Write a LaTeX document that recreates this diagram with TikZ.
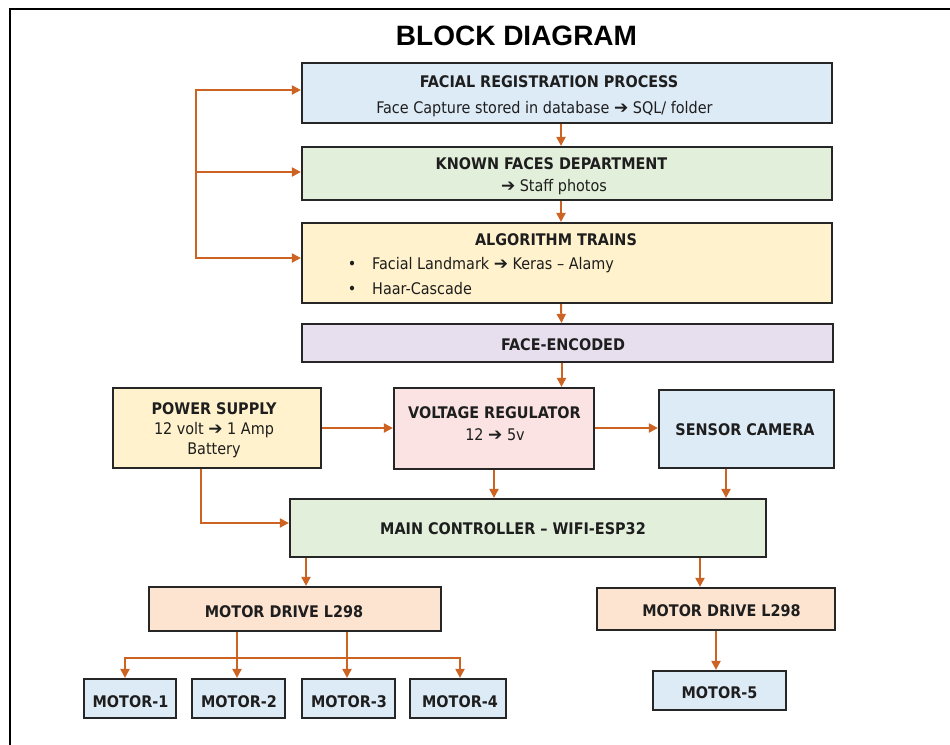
\documentclass[tikz,border=0pt]{standalone}
\usepackage{fontspec}
\setmainfont{DejaVu Sans Condensed}
\newfontfamily\titlefont{Liberation Sans}
\newfontfamily\arrfont{DejaVu Sans}
\newcommand{\harr}{{\arrfont\fontsize{17}{19}\selectfont ➔}}
\usetikzlibrary{arrows.meta}
\definecolor{arrc}{HTML}{CC6322}
\definecolor{bordc}{HTML}{262626}
\definecolor{txtc}{HTML}{1E1E1E}
\definecolor{cblue}{HTML}{DDEBF7}
\definecolor{cgreen}{HTML}{E2EFDA}
\definecolor{cyellow}{HTML}{FFF2CC}
\definecolor{clav}{HTML}{E7DFEE}
\definecolor{cpink}{HTML}{FBE3E3}
\definecolor{cpeach}{HTML}{FCE4D0}
\tikzset{
  box/.style={draw=bordc, line width=2.2pt, rectangle, inner sep=0pt},
  hd/.style={anchor=base, font=\fontsize{16}{19}\selectfont\bfseries, text=txtc, inner sep=0pt},
  tx/.style={anchor=base, font=\fontsize{16}{19}\selectfont, text=txtc, inner sep=0pt},
  txl/.style={anchor=base west, font=\fontsize{16}{19}\selectfont, text=txtc, inner sep=0pt},
  arr/.style={draw=arrc, line width=2pt, -{Triangle[length=9pt,width=9pt]}},
  frame/.style={draw=black, line width=2pt}
}
\begin{document}
\begin{tikzpicture}[x=1pt,y=-1pt]
\useasboundingbox (0,0) rectangle (950,744);
\fill[white] (0,0) rectangle (950,744);
\coordinate (frbl) at (10,745);
\coordinate (frtl) at (10,9);
\coordinate (frtr) at (951,9);
\draw[frame] (frbl) -- (frtl) -- (frtr);

\node[anchor=base, font=\titlefont\bfseries\fontsize{28}{30}\selectfont, text=black, inner sep=0pt] (title) at (516.5,45) {BLOCK DIAGRAM};

% boxes
\node[box, fill=cblue,   minimum width=530, minimum height=60] (reg)   at (567,93) {};
\node[box, fill=cgreen,  minimum width=530, minimum height=53] (known) at (567,173.5) {};
\node[box, fill=cyellow, minimum width=530, minimum height=80] (algo)  at (567,263) {};
\node[box, fill=clav,    minimum width=531, minimum height=38] (enc)   at (567.5,343) {};
\node[box, fill=cyellow, minimum width=208, minimum height=80] (ps)    at (217,428) {};
\node[box, fill=cpink,   minimum width=200, minimum height=81] (vr)    at (494,428.5) {};
\node[box, fill=cblue,   minimum width=175, minimum height=78] (sc)    at (746.5,429) {};
\node[box, fill=cgreen,  minimum width=476, minimum height=58] (mc)    at (528,528) {};
\node[box, fill=cpeach,  minimum width=292, minimum height=44] (mdl)   at (295,609) {};
\node[box, fill=cpeach,  minimum width=238, minimum height=42] (mdr)   at (716,609) {};
\node[box, fill=cblue,   minimum width=92,  minimum height=39] (m1)    at (130,698.5) {};
\node[box, fill=cblue,   minimum width=93,  minimum height=39] (m2)    at (238.5,698.5) {};
\node[box, fill=cblue,   minimum width=93,  minimum height=39] (m3)    at (348.5,698.5) {};
\node[box, fill=cblue,   minimum width=96,  minimum height=39] (m4)    at (458,698.5) {};
\node[box, fill=cblue,   minimum width=133, minimum height=39] (m5)    at (719.5,690.5) {};

% texts
\node[hd] (regh) at (549,87) {FACIAL REGISTRATION PROCESS};
\node[tx] (regt) at (544.5,113) {Face Capture stored in database \harr{} SQL/ folder};
\node[hd] (knownh) at (551.5,169) {KNOWN FACES DEPARTMENT};
\node[tx] (knownt) at (554,191) {\harr{} Staff photos};
\node[hd] (algoh) at (556,245) {ALGORITHM TRAINS};
\node[tx] (bul1) at (352,269) {•};
\node[tx] (bul2) at (352,294) {•};
\node[txl] (algot1) at (372,269) {Facial Landmark \harr{} Keras – Alamy};
\node[txl] (algot2) at (372,294) {Haar-Cascade};
\node[hd] (ench) at (563,350.5) {FACE-ENCODED};
\node[hd] (psh) at (214,414) {POWER SUPPLY};
\node[tx] (pst1) at (214,434.5) {12 volt \harr{} 1 Amp};
\node[tx] (pst2) at (214,454) {Battery};
\node[hd] (vrh) at (494.5,418) {VOLTAGE REGULATOR};
\node[tx] (vrt) at (495,440) {12 \harr{} 5v};
\node[hd] (sch) at (745,435) {SENSOR CAMERA};
\node[hd] (mch) at (513,534) {MAIN CONTROLLER – WIFI-ESP32};
\node[hd] (mdlh) at (284,617) {MOTOR DRIVE L298};
\node[hd] (mdrh) at (721.5,616) {MOTOR DRIVE L298};
\node[hd] (m1h) at (130.5,707) {MOTOR-1};
\node[hd] (m2h) at (239,707) {MOTOR-2};
\node[hd] (m3h) at (349,707) {MOTOR-3};
\node[hd] (m4h) at (460,707) {MOTOR-4};
\node[hd] (m5h) at (719.5,698) {MOTOR-5};

% feedback loop on the left
\coordinate (fbtop) at (196,90);
\coordinate (fbmid) at (196,172);
\coordinate (fbbot) at (196,258);
\draw[arr] (fbbot) -- (fbtop) -- (fbtop -| reg.west);
\draw[arr] (fbtop) -- (fbbot) -- (fbbot -| algo.west);
\draw[arr] (fbmid) -- (fbmid -| known.west);

% vertical chain
\draw[arr] ([xshift=-6pt]reg.south) -- ([xshift=-6pt]known.north);
\draw[arr] ([xshift=-6pt]known.south) -- ([xshift=-6pt]algo.north);
\draw[arr] ([xshift=-6pt]algo.south) -- ([xshift=-6pt]enc.north);
\draw[arr] ([xshift=-6pt]enc.south) -- ([xshift=-6pt]enc.south |- vr.north);

% power / regulator / camera
\draw[arr] (ps.east) -- (ps.east -| vr.west);
\draw[arr] ([yshift=0.5pt]vr.east) -- ([yshift=0.5pt]vr.east -| sc.west);
\draw[arr] (vr.south) -- (vr.south |- mc.north);
\draw[arr] ([xshift=-20.5pt]sc.south) -- ([xshift=-20.5pt]sc.south |- mc.north);
\draw[arr] ([xshift=-16pt]ps.south) |- ([yshift=5pt]mc.west);

% controller to drivers
\draw[arr] ([xshift=11pt]mdl.north |- mc.south) -- ([xshift=11pt]mdl.north);
\draw[arr] ([xshift=-16pt]mdr.north |- mc.south) -- ([xshift=-16pt]mdr.north);
\draw[arr] (mdr.south) -- (mdr.south |- m5.north);

% driver to motors
\coordinate (bus) at (0,658);
\coordinate (m1in) at ([xshift=-5pt]m1.north);
\coordinate (m2in) at ([xshift=-1.5pt]m2.north);
\coordinate (m3in) at ([xshift=-1.5pt]m3.north);
\coordinate (m4in) at ([xshift=2pt]m4.north);
\draw[arr] (m4in |- bus) -- (m1in |- bus) -- (m1in);
\draw[arr] (m1in |- bus) -- (m4in |- bus) -- (m4in);
\draw[arr] (m2in |- mdl.south) -- (m2in);
\draw[arr] (m3in |- mdl.south) -- (m3in);
\end{tikzpicture}
\end{document}
